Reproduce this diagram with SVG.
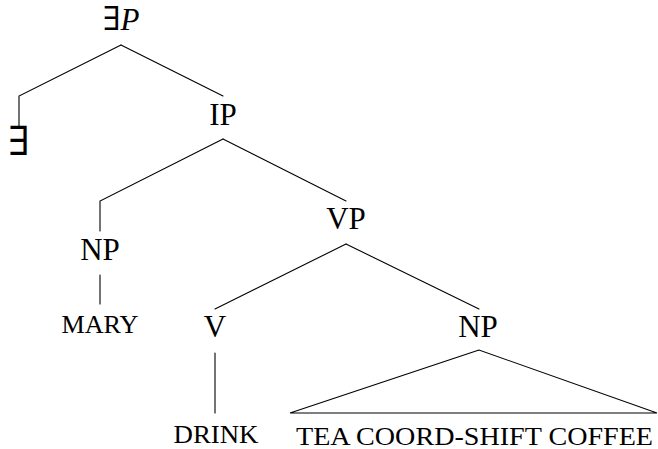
<svg xmlns="http://www.w3.org/2000/svg" width="658" height="449" viewBox="0 0 658 449">
<style>
  .lbl { font-family: "Liberation Serif", "DejaVu Serif", serif; font-size: 31px; fill: #000; text-anchor: middle; }
  .sc { font-family: "Liberation Serif", "DejaVu Serif", serif; font-size: 25px; fill: #000; text-anchor: middle; }
  .ex { font-family: "DejaVu Serif", serif; }
  .edge { stroke: #000; stroke-width: 1.1; fill: none; stroke-linecap: round; }
</style>
<rect width="658" height="449" fill="#fff"/>
<g id="connectors">
  <path class="edge" d="M121 45 L19 96 L19 126"/>
  <path class="edge" d="M121 45 L223 96"/>
  <path class="edge" d="M223 139 L100 201 L100 231"/>
  <path class="edge" d="M223 139 L346 201"/>
  <path class="edge" d="M100 275 L100 304"/>
  <path class="edge" d="M346 244 L215 309"/>
  <path class="edge" d="M346 244 L479 309"/>
  <path class="edge" d="M215 353 L215 413"/>
  <path class="edge" d="M479 350 L290 413 L657 413 Z"/>
</g>
<g id="n-existsP"><text class="lbl" x="121" y="30"><tspan class="ex" style="font-size:33px">∃</tspan><tspan font-style="italic">P</tspan></text></g>
<g id="n-exists"><text class="lbl ex" x="19" y="155" style="font-size:40px">∃</text></g>
<g id="n-IP"><text class="lbl" x="223" y="125">IP</text></g>
<g id="n-NP1"><text class="lbl" x="100" y="260">NP</text></g>
<g id="n-VP"><text class="lbl" x="346" y="229">VP</text></g>
<g id="n-mary"><text class="sc" x="100" y="333" textLength="77" lengthAdjust="spacingAndGlyphs">MARY</text></g>
<g id="n-V"><text class="lbl" x="215" y="337">V</text></g>
<g id="n-NP2"><text class="lbl" x="478" y="337">NP</text></g>
<g id="n-drink"><text class="sc" x="216" y="443" textLength="85" lengthAdjust="spacingAndGlyphs">DRINK</text></g>
<g id="n-tea"><text class="sc" x="474.5" y="445" textLength="357" lengthAdjust="spacingAndGlyphs">TEA COORD-SHIFT COFFEE</text></g>
</svg>
